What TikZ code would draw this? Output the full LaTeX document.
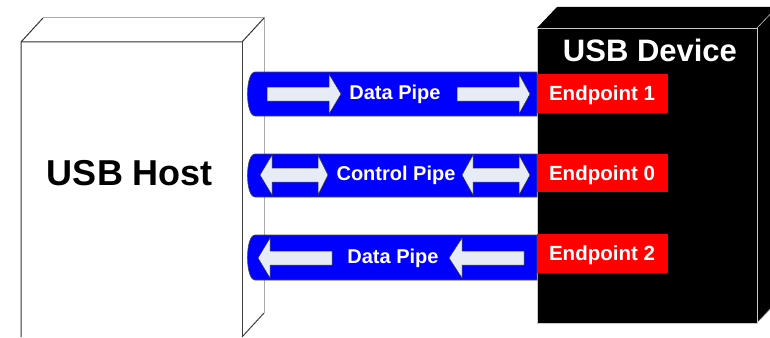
\documentclass[tikz,border=0pt]{standalone}
\usepackage{fontspec}
\setmainfont{Liberation Sans}
\definecolor{pipeblue}{RGB}{0,0,255}
\definecolor{arrowfill}{RGB}{230,235,245}
\definecolor{epred}{RGB}{255,0,0}
\definecolor{edgegray}{RGB}{170,170,170}
\definecolor{devedge}{RGB}{200,200,200}

% right-pointing block arrow: tail x, head base x, tip x, centre y
\newcommand\blockArrowR[4]{%
  \draw[flowarrow] (#1,#4-7) -- (#2,#4-7) -- (#2,#4-20) -- (#3,#4)
    -- (#2,#4+20) -- (#2,#4+7) -- (#1,#4+7) -- cycle;}
% left-pointing block arrow: tip x, head base x, tail x, centre y
\newcommand\blockArrowL[4]{%
  \draw[flowarrow] (#3,#4-7) -- (#2,#4-7) -- (#2,#4-20) -- (#1,#4)
    -- (#2,#4+20) -- (#2,#4+7) -- (#3,#4+7) -- cycle;}
% double-headed block arrow: left tip, left base, right base, right tip, centre y
\newcommand\blockArrowLR[5]{%
  \draw[flowarrow] (#1,#5) -- (#2,#5-20) -- (#2,#5-7) -- (#3,#5-7)
    -- (#3,#5-20) -- (#4,#5) -- (#3,#5+20) -- (#3,#5+7) -- (#2,#5+7)
    -- (#2,#5+20) -- cycle;}
% pipe body with a rounded left end, flat right end at x=537
\newcommand\pipeBody[2]{%
  \draw[pipe] (537,#1) -- (255,#1) .. controls (245,#1) and (245,#2) .. (255,#2)
    -- (537,#2) -- cycle;}

\begin{document}
\begin{tikzpicture}[x=1pt,y=-1pt,
  flowarrow/.style={fill=arrowfill,draw=black!80,line width=0.5pt,line join=miter},
  pipe/.style={fill=pipeblue,draw=black!70,line width=0.6pt},
  pipelabel/.style={text=white,font=\fontsize{20}{24}\selectfont\bfseries,anchor=base,inner sep=0pt},
  eplabel/.style={text=white,font=\fontsize{20.5}{24}\selectfont\bfseries,anchor=base,inner sep=0pt},
  epbox/.style={fill=epred,draw=none}]
\useasboundingbox (0,0) rectangle (770,337);

% ---- host box ----
\fill[white] (21,42) -- (43,18) -- (264,18) -- (264,313) -- (242,337) -- (21,337) -- cycle;
\draw[edgegray,line width=1pt] (43,18) -- (264,18) -- (264,313);
\draw[black!75,line width=1pt] (242,337) -- (264,313);
\draw[black!80,line width=1pt] (21,337) -- (21,42) -- (43,18);
\draw[black!80,line width=1pt] (21,42) -- (242,42) -- (264,18);
\draw[black!75,line width=1pt] (242,42) -- (242,337);
\node[anchor=base,inner sep=0pt,font=\fontsize{36}{42}\selectfont\bfseries] (host) at (130,185) {USB Host};

% ---- device box ----
\fill[black] (537,28) -- (557,7) -- (777,7) -- (777,302) -- (757,323) -- (537,323) -- cycle;
\draw[devedge,line width=0.6pt] (537,323) -- (537,28) -- (757,28) -- (757,323) -- cycle;
\draw[devedge,line width=0.6pt] (757,28) -- (777,7);
\draw[devedge,line width=0.6pt] (757,323) -- (777,302);
\node[anchor=base,inner sep=0pt,text=white,font=\fontsize{31}{36}\selectfont\bfseries] (device) at (650,62) {USB Device};

% ---- pipes ----
\pipeBody{72}{116}
\pipeBody{154}{197}
\pipeBody{235}{280}

% data pipe (host to endpoint 1)
\blockArrowR{267}{329}{341}{94}
\blockArrowR{457}{519}{530}{94}
\node[pipelabel] (pipe1) at (395,99) {Data Pipe};

% control pipe (both directions)
\blockArrowLR{260}{272}{318}{328}{175}
\blockArrowLR{462}{473}{519}{530}{175}
\node[pipelabel] (pipe0) at (396,180) {Control Pipe};

% data pipe (endpoint 2 to host)
\blockArrowL{258}{270}{332}{258}
\blockArrowL{449}{462}{524}{258}
\node[pipelabel] (pipe2) at (393,263) {Data Pipe};

% ---- endpoints ----
\node[epbox,minimum width=131pt,minimum height=39pt,anchor=north west,inner sep=0pt] (ep1box) at (537,74) {};
\node[epbox,minimum width=131pt,minimum height=38pt,anchor=north west,inner sep=0pt] (ep0box) at (537,154) {};
\node[epbox,minimum width=131pt,minimum height=39pt,anchor=north west,inner sep=0pt] (ep2box) at (537,234) {};
\node[eplabel] (ep1) at (602,100) {Endpoint 1};
\node[eplabel] (ep0) at (602,180) {Endpoint 0};
\node[eplabel] (ep2) at (602,260) {Endpoint 2};
\end{tikzpicture}
\end{document}
